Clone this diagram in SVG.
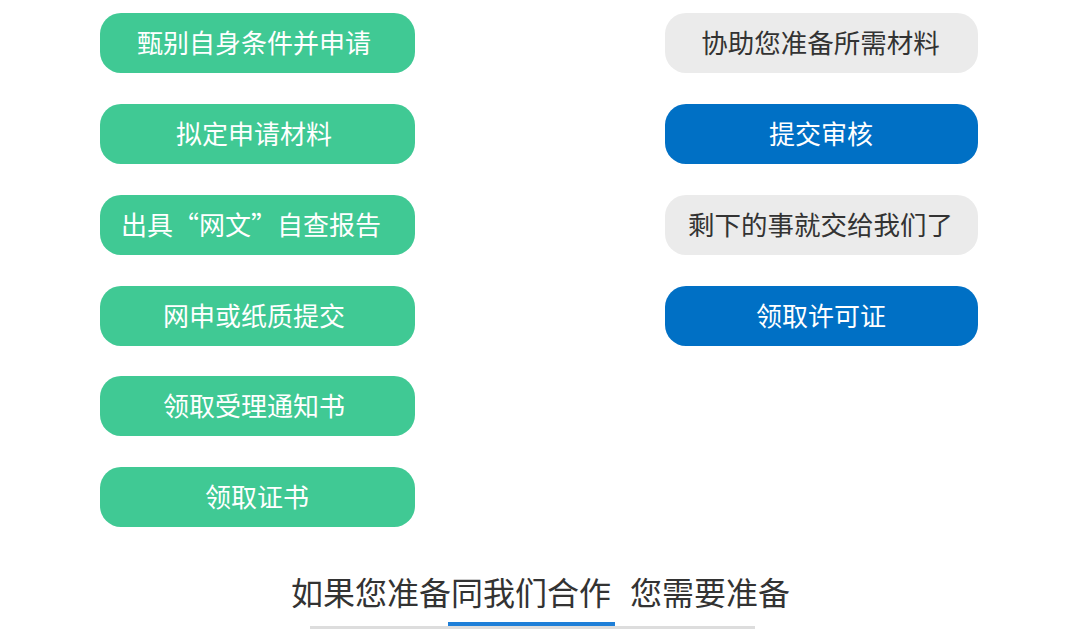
<svg xmlns="http://www.w3.org/2000/svg" width="1080" height="643" viewBox="0 0 1080 643">
<style>
.g{fill:#40C994}.b{fill:#0070C5}.w{fill:#EBEBEB}
text{font-family:"Noto Sans CJK SC","Noto Sans",sans-serif;text-anchor:middle}
.t{font-size:26px;fill:#fff}.d{font-size:26.5px;fill:#333}
.h{font-size:32px;fill:#333}
</style>
<rect width="1080" height="643" fill="#fff"/>
<g id="n1"><rect class="g" x="100" y="13" width="315" height="60" rx="21"/><text class="t" x="254" y="53">甄别自身条件并申请</text></g>
<g id="n2"><rect class="g" x="100" y="104" width="315" height="60" rx="21"/><text class="t" x="254" y="144">拟定申请材料</text></g>
<g id="n3"><rect class="g" x="100" y="195" width="315" height="60" rx="21"/><text class="t" x="251" y="235">出具“网文”自查报告</text></g>
<g id="n4"><rect class="g" x="100" y="286" width="315" height="60" rx="21"/><text class="t" x="254" y="326">网申或纸质提交</text></g>
<g id="n5"><rect class="g" x="100" y="376" width="315" height="60" rx="21"/><text class="t" x="254" y="416">领取受理通知书</text></g>
<g id="n6"><rect class="g" x="100" y="467" width="315" height="60" rx="21"/><text class="t" x="257" y="507">领取证书</text></g>
<g id="r1"><rect class="w" x="665" y="13" width="313" height="60" rx="21"/><text class="d" x="820.5" y="53">协助您准备所需材料</text></g>
<g id="r2"><rect class="b" x="665" y="104" width="313" height="60" rx="21"/><text class="t" x="821" y="144">提交审核</text></g>
<g id="r3"><rect class="w" x="665" y="195" width="313" height="60" rx="21"/><text class="d" x="820.5" y="235">剩下的事就交给我们了</text></g>
<g id="r4"><rect class="b" x="665" y="286" width="313" height="60" rx="21"/><text class="t" x="821" y="326">领取许可证</text></g>
<g id="title">
<text class="h" x="451" y="605">如果您准备同我们合作</text>
<text class="h" x="710" y="605">您需要准备</text>
<rect x="310" y="626" width="445" height="3" fill="#DDDDDD"/>
<rect x="448" y="622" width="167" height="4" fill="#1E7FD8"/>
</g>
<g id="connectors"></g>
</svg>
